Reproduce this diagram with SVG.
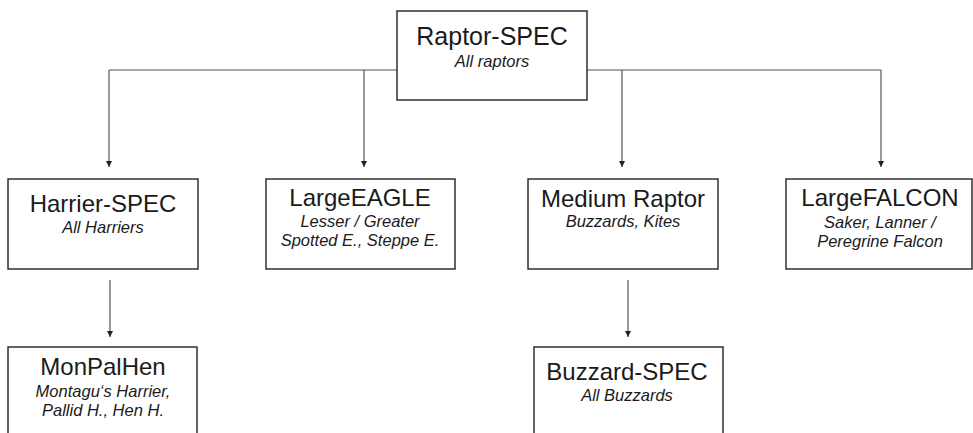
<svg xmlns="http://www.w3.org/2000/svg" width="973" height="433" viewBox="0 0 973 433">
<style>
.box{fill:#fff;stroke:#222;stroke-width:1.4}
.t{font-family:"Liberation Sans",Arial,sans-serif;font-size:24px;fill:#1a1a1a;text-anchor:middle}
.s{font-family:"Liberation Sans",Arial,sans-serif;font-size:16.5px;font-style:italic;fill:#1a1a1a;text-anchor:middle}
.c{fill:none;stroke:#555;stroke-width:1.2}
</style>
<defs>
<marker id="ah" viewBox="0 0 10 10" refX="10" refY="5" markerWidth="6" markerHeight="6" markerUnits="userSpaceOnUse" orient="auto">
<path d="M0,0 L10,5 L0,10 Z" fill="#222"/>
</marker>
</defs>
<g id="connectors">
<path class="c" d="M109,70 H881"/>
<path class="c" d="M109,70 V167" marker-end="url(#ah)"/>
<path class="c" d="M364,70 V167" marker-end="url(#ah)"/>
<path class="c" d="M622,70 V167" marker-end="url(#ah)"/>
<path class="c" d="M881,70 V167" marker-end="url(#ah)"/>
<path class="c" d="M110,280 V337" marker-end="url(#ah)"/>
<path class="c" d="M628,280 V337" marker-end="url(#ah)"/>
</g>
<g id="raptor-spec">
<rect class="box" x="397" y="11" width="190" height="89"/>
<text class="t" x="492" y="45" style="font-size:25px">Raptor-SPEC</text>
<text class="s" x="492" y="67">All raptors</text>
</g>
<g id="harrier-spec">
<rect class="box" x="8" y="179" width="190" height="90"/>
<text class="t" x="103" y="212">Harrier-SPEC</text>
<text class="s" x="103" y="233">All Harriers</text>
</g>
<g id="large-eagle">
<rect class="box" x="266" y="179" width="189" height="90"/>
<text class="t" x="360" y="206">LargeEAGLE</text>
<text class="s" x="360" y="227">Lesser / Greater</text>
<text class="s" x="360" y="246">Spotted E., Steppe E.</text>
</g>
<g id="medium-raptor">
<rect class="box" x="528" y="179" width="190" height="90"/>
<text class="t" x="623" y="207">Medium Raptor</text>
<text class="s" x="623" y="227">Buzzards, Kites</text>
</g>
<g id="large-falcon">
<rect class="box" x="786" y="179" width="186" height="90"/>
<text class="t" x="880" y="206">LargeFALCON</text>
<text class="s" x="880" y="228">Saker, Lanner /</text>
<text class="s" x="880" y="247">Peregrine Falcon</text>
</g>
<g id="monpalhen">
<rect class="box" x="8" y="347" width="189" height="100"/>
<text class="t" x="103" y="375">MonPalHen</text>
<text class="s" x="103" y="397">Montagu‘s Harrier,</text>
<text class="s" x="103" y="416">Pallid H., Hen H.</text>
</g>
<g id="buzzard-spec">
<rect class="box" x="534" y="347" width="189" height="100"/>
<text class="t" x="627" y="380">Buzzard-SPEC</text>
<text class="s" x="627" y="401">All Buzzards</text>
</g>
</svg>
